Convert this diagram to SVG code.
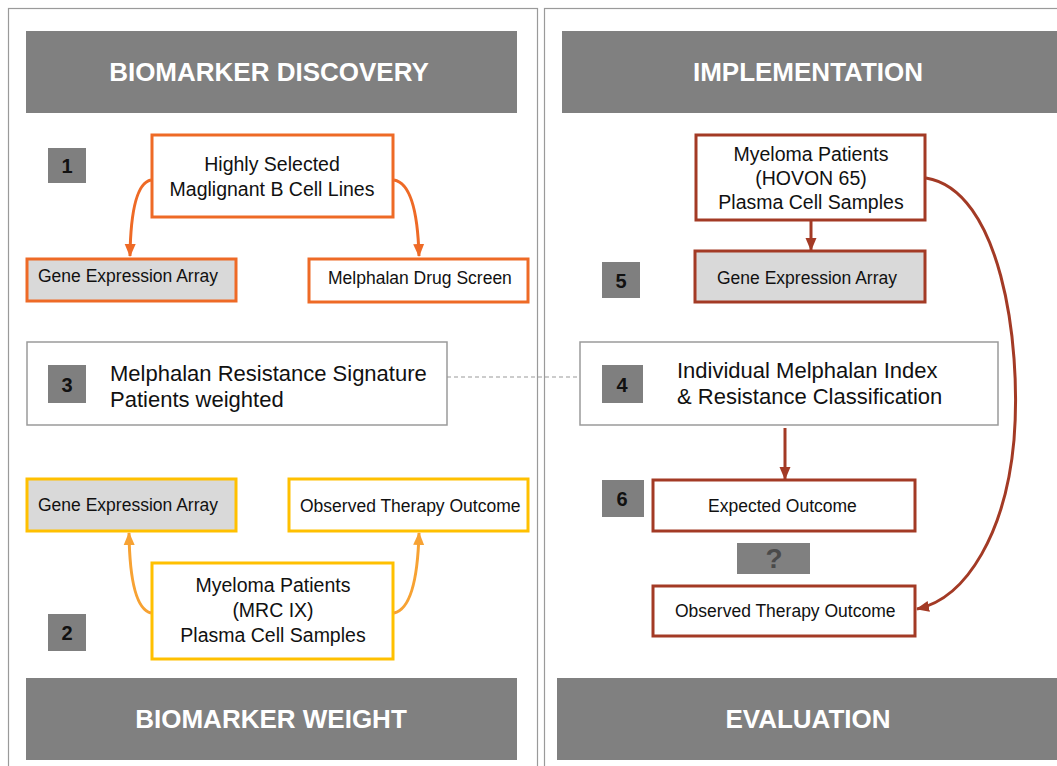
<svg xmlns="http://www.w3.org/2000/svg" width="1057" height="766" viewBox="0 0 1057 766">
  <style>
    .panel { fill: #ffffff; stroke: #9a9a9a; stroke-width: 1.2; }
    .band { fill: #808080; }
    .band-text { font-family: "Liberation Sans", Arial, sans-serif; font-weight: bold; font-size: 26px; fill: #ffffff; text-anchor: middle; }
    .badge { fill: #7f7f7f; }
    .badge-text { font-family: "Liberation Sans", Arial, sans-serif; font-weight: bold; font-size: 20px; fill: #111111; text-anchor: middle; }
    .lbl { font-family: "Liberation Sans", Arial, sans-serif; fill: #111111; }
    .mid { text-anchor: middle; }
    .orange { stroke: #ee6a26; stroke-width: 3; }
    .yellow { stroke: #ffc000; stroke-width: 3; }
    .red { stroke: #a33a25; stroke-width: 3; }
    .plain { stroke: #9a9a9a; stroke-width: 1.5; fill: #ffffff; }
    .white { fill: #ffffff; }
    .grey { fill: #d9d9d9; }
    .conn { fill: none; stroke-width: 3; }
  </style>
  <defs>
    <marker id="arrOrange" markerUnits="userSpaceOnUse" markerWidth="13" markerHeight="13" viewBox="0 0 13 13" refX="12" refY="6.5" orient="auto">
      <path d="M0,1 L13,6.5 L0,12 Z" fill="#ee6a26"/>
    </marker>
    <marker id="arrAmber" markerUnits="userSpaceOnUse" markerWidth="13" markerHeight="13" viewBox="0 0 13 13" refX="12" refY="6.5" orient="auto">
      <path d="M0,1 L13,6.5 L0,12 Z" fill="#f7a233"/>
    </marker>
    <marker id="arrRed" markerUnits="userSpaceOnUse" markerWidth="13" markerHeight="13" viewBox="0 0 13 13" refX="12" refY="6.5" orient="auto">
      <path d="M0,1 L13,6.5 L0,12 Z" fill="#a33a25"/>
    </marker>
  </defs>

  <rect width="1057" height="766" fill="#ffffff"/>

  <!-- panels -->
  <rect class="panel" x="8.5" y="8.5" width="529" height="780"/>
  <rect class="panel" x="544.5" y="8.5" width="530" height="780"/>

  <!-- section bands -->
  <g id="band-discovery">
    <rect class="band" x="26" y="31" width="491" height="82"/>
    <text class="band-text" x="269" y="81">BIOMARKER DISCOVERY</text>
  </g>
  <g id="band-implementation">
    <rect class="band" x="562" y="31" width="495" height="82"/>
    <text class="band-text" x="808" y="81">IMPLEMENTATION</text>
  </g>
  <g id="band-weight">
    <rect class="band" x="26" y="678" width="491" height="82"/>
    <text class="band-text" x="271" y="728">BIOMARKER WEIGHT</text>
  </g>
  <g id="band-evaluation">
    <rect class="band" x="557" y="678" width="500" height="82"/>
    <text class="band-text" x="808" y="728">EVALUATION</text>
  </g>

  <!-- step badges -->
  <g id="badge-1"><rect class="badge" x="48" y="148" width="38" height="35"/><text class="badge-text" x="67" y="173">1</text></g>
  <g id="badge-2"><rect class="badge" x="48" y="614" width="38" height="37"/><text class="badge-text" x="67" y="640">2</text></g>
  <g id="badge-5"><rect class="badge" x="602" y="262" width="38" height="36"/><text class="badge-text" x="621" y="288">5</text></g>
  <g id="badge-6"><rect class="badge" x="602" y="480" width="42" height="37"/><text class="badge-text" x="622" y="506">6</text></g>

  <!-- step 1 -->
  <g id="cell-lines">
    <rect class="orange white" x="152" y="135" width="241" height="82"/>
    <text class="lbl mid" font-size="19.5" x="272" y="171">Highly Selected</text>
    <text class="lbl mid" font-size="19.5" x="272" y="196">Maglignant B Cell Lines</text>
  </g>
  <g id="gea-1">
    <rect class="orange grey" x="27" y="259" width="209" height="42"/>
    <text class="lbl" font-size="17.5" x="38" y="282">Gene Expression Array</text>
  </g>
  <g id="drug-screen">
    <rect class="orange white" x="309" y="259" width="219" height="43"/>
    <text class="lbl" font-size="17.5" x="328" y="284">Melphalan Drug Screen</text>
  </g>

  <!-- step 3 -->
  <g id="signature">
    <rect class="plain" x="27" y="342" width="420" height="83"/>
    <rect class="badge" x="48" y="365" width="38" height="38"/>
    <text class="badge-text" x="67" y="392">3</text>
    <text class="lbl" font-size="22" x="110" y="381">Melphalan Resistance Signature</text>
    <text class="lbl" font-size="22" x="110" y="407">Patients weighted</text>
  </g>

  <!-- step 4 -->
  <g id="index">
    <rect class="plain" x="580" y="342" width="418" height="83"/>
    <rect class="badge" x="602" y="365" width="41" height="38"/>
    <text class="badge-text" x="622" y="392">4</text>
    <text class="lbl" font-size="22" x="677" y="378">Individual Melphalan Index</text>
    <text class="lbl" font-size="22" x="677" y="404">&amp; Resistance Classification</text>
  </g>

  <!-- step 2 -->
  <g id="gea-2">
    <rect class="yellow grey" x="27" y="479" width="209" height="52"/>
    <text class="lbl" font-size="17.5" x="38" y="511">Gene Expression Array</text>
  </g>
  <g id="observed-1">
    <rect class="yellow white" x="289" y="479" width="239" height="52"/>
    <text class="lbl" font-size="17.5" x="300" y="512">Observed Therapy Outcome</text>
  </g>
  <g id="mrc-patients">
    <rect class="yellow white" x="152" y="563" width="241" height="96"/>
    <text class="lbl mid" font-size="19.5" x="273" y="592">Myeloma Patients</text>
    <text class="lbl mid" font-size="19.5" x="273" y="617">(MRC IX)</text>
    <text class="lbl mid" font-size="19.5" x="273" y="642">Plasma Cell Samples</text>
  </g>

  <!-- steps 5/6 -->
  <g id="hovon-patients">
    <rect class="red white" x="696" y="135" width="229" height="85"/>
    <text class="lbl mid" font-size="19.5" x="811" y="161">Myeloma Patients</text>
    <text class="lbl mid" font-size="19.5" x="811" y="185">(HOVON 65)</text>
    <text class="lbl mid" font-size="19.5" x="811" y="209">Plasma Cell Samples</text>
  </g>
  <g id="gea-3">
    <rect class="red grey" x="695" y="251" width="230" height="51"/>
    <text class="lbl" font-size="17.5" x="717" y="284">Gene Expression Array</text>
  </g>
  <g id="expected">
    <rect class="red white" x="653" y="480" width="262" height="51"/>
    <text class="lbl" font-size="17.5" x="708" y="512">Expected Outcome</text>
  </g>
  <g id="question">
    <rect fill="#808080" x="737" y="543" width="73" height="31"/>
    <text font-family="Liberation Sans, Arial, sans-serif" font-weight="bold" font-size="28" fill="#4a4a4a" text-anchor="middle" x="774" y="568">?</text>
  </g>
  <g id="observed-2">
    <rect class="red white" x="653" y="586" width="262" height="50"/>
    <text class="lbl" font-size="17.5" x="675" y="617">Observed Therapy Outcome</text>
  </g>

  <!-- connectors -->
  <g id="connectors">
    <path class="conn" stroke="#ee6a26" d="M151,180 Q131,184 130,256" marker-end="url(#arrOrange)"/>
    <path class="conn" stroke="#ee6a26" d="M394,180 Q417,184 419,256" marker-end="url(#arrOrange)"/>
    <path class="conn" stroke="#f7a233" d="M151,613 Q130,608 129,533" marker-end="url(#arrAmber)"/>
    <path class="conn" stroke="#f7a233" d="M394,613 Q417,608 419,533" marker-end="url(#arrAmber)"/>
    <line x1="447" y1="377" x2="580" y2="377" stroke="#9a9a9a" stroke-width="1.2" stroke-dasharray="4 3"/>
    <path class="conn" stroke="#a33a25" d="M811,220 L811,250" marker-end="url(#arrRed)"/>
    <path class="conn" stroke="#a33a25" d="M785,428 L785,479" marker-end="url(#arrRed)"/>
    <path class="conn" stroke="#a33a25" d="M926,178 C1000,190 1022,340 1014,440 C1006,530 968,598 917,609" marker-end="url(#arrRed)"/>
  </g>
</svg>
